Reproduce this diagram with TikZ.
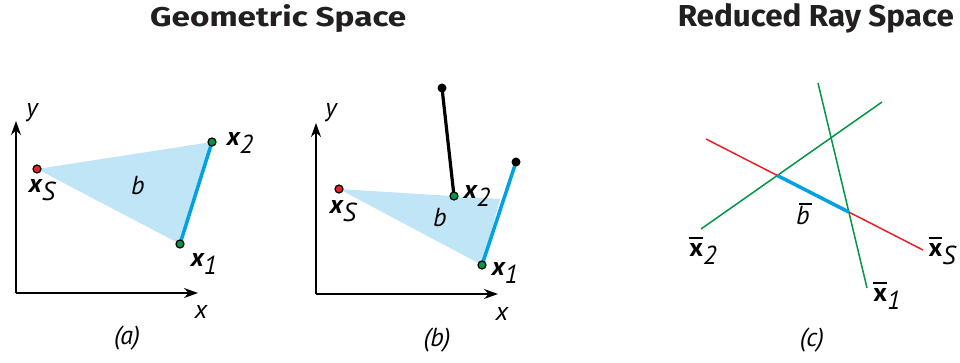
\documentclass[tikz,border=0pt]{standalone}
\usepackage{fontspec}
\usepackage{graphicx}
\setmainfont{PT Sans}
\newfontfamily\titlefont{Fira Sans}
\usetikzlibrary{arrows.meta}
\definecolor{fillblue}{RGB}{192,229,247}
\definecolor{lineblue}{RGB}{0,162,226}
\definecolor{ptgreen}{RGB}{0,150,70}
\definecolor{ptred}{RGB}{232,32,40}
\definecolor{ttlgray}{RGB}{35,31,32}
\tikzset{
  axis/.style={line width=1.6pt,-{Stealth[length=14pt,width=10pt]}},
  lbl/.style={inner sep=0pt,font=\fontsize{26}{28}\selectfont\itshape},
  ttl/.style={inner sep=0pt,text=ttlgray,font=\fontsize{30}{32}\selectfont\titlefont\bfseries},
  dotg/.style={circle,draw=black,fill=ptgreen,line width=1.2pt,inner sep=0pt,minimum size=8pt},
  dotr/.style={circle,draw=black,fill=ptred,line width=1.2pt,inner sep=0pt,minimum size=8pt},
  dotk/.style={circle,fill=black,inner sep=0pt,minimum size=9pt},
  segblue/.style={lineblue,line width=3.5pt},
  redline/.style={ptred,line width=1.5pt},
  greenline/.style={ptgreen,line width=1.5pt},
}
\newcommand{\bx}[1]{\textbf{\textit{x}}\raisebox{-0.32em}{\textit{#1}}}
\newcommand{\barx}{{\setbox0\hbox{\bfseries\upshape x}\rlap{\raisebox{1.35\ht0}{\rule{\wd0}{0.08em}}}\box0}}
\newcommand{\bbx}[1]{\barx\raisebox{-0.32em}{\textit{#1}}}
\newcommand{\barb}{{\setbox0\hbox{\itshape b}\rlap{\kern0.12em\raisebox{1.08\ht0}{\rule{0.92\wd0}{0.07em}}}\box0}}
\begin{document}
\begin{tikzpicture}[x=1pt,y=-1pt]
\useasboundingbox (0,0) rectangle (960,363);
% titles
\node[ttl,anchor=base west] (t1) at (150,27) {\resizebox{256pt}{22pt}{Geometric Space}};
\node[ttl,anchor=base east] (t2) at (954,27) {\resizebox{276pt}{23pt}{Reduced Ray Space}};
% ---------- panel (a)
\coordinate (ao) at (16,293);
\coordinate (ay) at (16,121);
\coordinate (ax) at (198,293);
\draw[axis] (ao) -- (ay);
\draw[axis] (ao) -- (ax);
\coordinate (aS) at (37,169);
\coordinate (a2) at (212,142);
\coordinate (a1) at (180,244);
\fill[fillblue] (aS) -- (a2) -- (a1) -- cycle;
\draw[segblue] (a1) -- (a2);
\node[dotr] (naS) at (aS) {};
\node[dotg] (na2) at (a2) {};
\node[dotg] (na1) at (a1) {};
\node[lbl] (lay) at (32,113) {y};
\node[lbl] (lax) at (201,312) {x};
\node[lbl] (lab) at (138,186) {b};
\node[lbl] (laS) at (42,190) {\bx{S}};
\node[lbl] (la2) at (240,143) {\bx{2}};
\node[lbl] (la1) at (204,264) {\bx{1}};
\node[lbl] (capa) at (127,338) {(a)};
% ---------- panel (b)
\coordinate (bo) at (316,294);
\coordinate (by) at (316,123);
\coordinate (bx) at (498,294);
\draw[axis] (bo) -- (by);
\draw[axis] (bo) -- (bx);
\coordinate (bS) at (339,189);
\coordinate (b2) at (454,196);
\coordinate (b1) at (482,265);
\coordinate (bt) at (516,162);
\coordinate (bk) at (442,88);
\coordinate (bc) at (500,199);
\fill[fillblue] (bS) -- (bc) -- (b1) -- cycle;
\draw[black,line width=3.2pt] (bk) -- (b2);
\draw[segblue] (b1) -- (bt);
\node[dotk] (nbk) at (bk) {};
\node[dotk] (nbt) at (bt) {};
\node[dotr] (nbS) at (bS) {};
\node[dotg] (nb2) at (b2) {};
\node[dotg] (nb1) at (b1) {};
\node[lbl] (lby) at (331,113) {y};
\node[lbl] (lbx) at (502,314) {x};
\node[lbl] (lbb) at (440,218) {b};
\node[lbl] (lbS) at (343,211) {\bx{S}};
\node[lbl] (lb2) at (477,196) {\bx{2}};
\node[lbl] (lb1) at (505,273) {\bx{1}};
\node[lbl] (capb) at (437,340) {(b)};
% ---------- panel (c)
\coordinate (cr1) at (706,139);
\coordinate (cr2) at (923,250);
\coordinate (cg1) at (701,229);
\coordinate (cg2) at (882,102);
\coordinate (ch1) at (818,83);
\coordinate (ch2) at (867,288);
\draw[redline] (cr1) -- (cr2);
\draw[greenline] (cg1) -- (cg2);
\draw[greenline] (ch1) -- (ch2);
\coordinate (ci1) at (intersection of cr1--cr2 and cg1--cg2);
\coordinate (ci2) at (intersection of cr1--cr2 and ch1--ch2);
\draw[segblue] (ci1) -- (ci2);
\node[lbl] (lcb) at (803,214) {\barb};
\node[lbl] (lc2) at (703,251) {\bbx{2}};
\node[lbl] (lcS) at (942,251) {\bbx{S}};
\node[lbl] (lc1) at (887,296) {\bbx{1}};
\node[lbl] (capc) at (812,340) {(c)};
\end{tikzpicture}
\end{document}
